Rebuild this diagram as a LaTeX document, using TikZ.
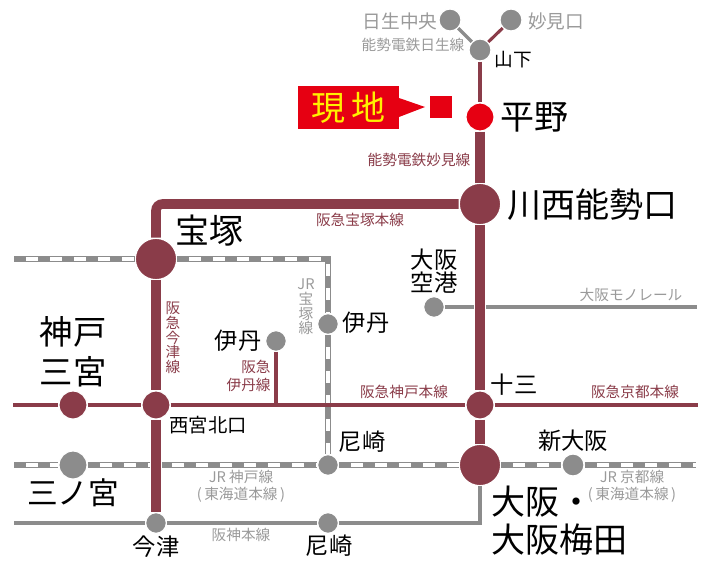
\documentclass[tikz,border=0pt]{standalone}
\usepackage{fontspec}
\setmainfont{Noto Sans CJK JP}
\usetikzlibrary{positioning}
\definecolor{hankyu}{HTML}{8A3C49}
\definecolor{railgrey}{HTML}{8C8C8C}
\definecolor{labelgrey}{HTML}{9A9A9A}
\definecolor{siteRed}{HTML}{E60012}
\definecolor{siteYellow}{HTML}{FFF000}
\newcommand{\fs}[1]{\fontsize{#1}{#1}\selectfont}
\begin{document}
\begin{tikzpicture}[x=0.75pt,y=-0.75pt,semithick]
\tikzstyle{every node}=[inner sep=0pt]
\tikzstyle{bigst}=[circle,draw=white,line width=0.9pt,fill=hankyu,minimum size=31pt]
\tikzstyle{midst}=[circle,draw=white,line width=0.9pt,fill=hankyu,minimum size=21pt]
\tikzstyle{greyst}=[circle,draw=white,line width=0.9pt,fill=railgrey,minimum size=16.5pt]
\tikzstyle{thickline}=[draw=hankyu,line width=7.2pt,preaction={draw=white,line width=8.6pt}]
\tikzstyle{thinline}=[draw=hankyu,line width=2.3pt]
\tikzstyle{greyline}=[draw=railgrey,line width=2.4pt]
\tikzstyle{jrline}=[draw=railgrey,line width=4pt,postaction={draw=white,line width=2.4pt},postaction={draw=railgrey,line width=2.6pt,dash pattern=on 9pt off 9pt}]
\tikzstyle{stbig}=[font=\fs{25.5},align=center]
\tikzstyle{stmid}=[font=\fs{17.5},align=center]
\tikzstyle{linered}=[font=\fs{11},text=hankyu,align=center]
\tikzstyle{linegrey}=[font=\fs{11},text=labelgrey,align=center]
\useasboundingbox (0,0) rectangle (709,567);
% stations
\node[greyst] (hinaka) at (450,20) {};
\node[greyst] (myoken) at (511,20) {};
\node[greyst] (yamashita) at (480,50) {};
\node[midst,fill=siteRed] (hirano) at (480,117) {};
\node[bigst] (kawanishi) at (480,204) {};
\node[bigst] (takarazuka) at (156,259) {};
\node[greyst,minimum size=15.5pt] (itamijr) at (328,324) {};
\node[greyst,minimum size=15.5pt] (itami) at (276,341) {};
\node[greyst,minimum size=15.5pt] (airport) at (434,307) {};
\node[midst] (sannomiya) at (73,405) {};
\node[midst] (nishinomiya) at (156,405) {};
\node[midst] (juso) at (480,405) {};
\node[midst,fill=railgrey] (jrsannomiya) at (73,465) {};
\node[greyst,minimum size=15.5pt] (amagasakijr) at (328,465) {};
\node[bigst] (osaka) at (480,465) {};
\node[greyst] (shinosaka) at (573,465) {};
\node[greyst,minimum size=15.5pt] (imazu) at (156,523) {};
\node[greyst,minimum size=15.5pt] (amagasaki) at (328,523) {};
% free ends
\coordinate (jrwest) at (14,259);
\coordinate (kobewest) at (14,465);
\coordinate (kyotoeast) at (696,465);
\coordinate (hkwest) at (13,405);
\coordinate (hkeast) at (698,405);
\coordinate (itamifoot) at (276,405);
\coordinate (monoeast) at (697,307);
\coordinate (hswest) at (14,523);
\coordinate (hscorner) at (480,523);
% JR
\path (jrwest) edge[jrline] (takarazuka)
      (kobewest) edge[jrline] (jrsannomiya)
      (jrsannomiya) edge[jrline] (amagasakijr)
      (amagasakijr) edge[jrline] (osaka)
      (osaka) edge[jrline] (shinosaka)
      (shinosaka) edge[jrline] (kyotoeast);
\draw[jrline] (takarazuka) -| (itamijr);
\path (itamijr) edge[jrline] (amagasakijr);
% grey lines
\path (hinaka) edge[greyline] (yamashita)
      (airport) edge[greyline] (monoeast)
      (hswest) edge[greyline] (imazu)
      (imazu) edge[greyline] (amagasaki);
\draw[greyline] (amagasaki) -- (hscorner) -- (osaka);
% hankyu lines
\path (myoken) edge[thinline] (yamashita)
      (yamashita) edge[thinline] (hirano)
      (hkwest) edge[thinline] (sannomiya)
      (sannomiya) edge[thinline] (nishinomiya)
      (nishinomiya) edge[thinline] (juso)
      (juso) edge[thinline] (hkeast)
      (itami) edge[thinline] (itamifoot)
      (hirano) edge[thickline] (kawanishi)
      (kawanishi) edge[thickline] (juso)
      (juso) edge[thickline] (osaka)
      (takarazuka) edge[thickline] (nishinomiya)
      (nishinomiya) edge[thickline] (imazu);
\draw[thickline,rounded corners=5pt] (takarazuka) |- (kawanishi);
% site marker
\node[fill=siteRed,minimum width=76pt,minimum height=32.5pt,text=siteYellow,font=\fs{25.5}] (site) at (348.5,107.5) {現\,地};
\node[fill=siteRed,minimum size=17pt] (sitemark) at (441,107) {};
\fill[siteRed] (399,98) -- (425,107) -- (399,117) -- cycle;
% big names
\node[stbig] (lhirano) at (534,117) {平野};
\node[stbig] (lkawanishi) at (592,205) {川西能勢口};
\node[stbig] (ltakarazuka) at (209,231) {宝塚};
\node[stbig,font=\fs{25}] (lsannomiya) at (73,352) {神戸\\[5pt]三宮};
\node[stbig,font=\fs{23}] (ljrsannomiya) at (73,493) {三ノ宮};
\node[stbig,anchor=north west,align=left] (losaka) at (491,486) {大阪・\\[3pt]大阪梅田};
% small names
\node[stmid,font=\fs{14},text=labelgrey] (lhinaka) at (400,21) {日生中央};
\node[stmid,font=\fs{14},text=labelgrey] (lmyoken) at (556,21) {妙見口};
\node[stmid,font=\fs{14}] (lyamashita) at (513,60) {山下};
\node[stmid] (lairport) at (434,271) {大阪\\空港};
\node[stmid] (litamijr) at (366,323) {伊丹};
\node[stmid] (litami) at (238,341) {伊丹};
\node[stmid] (ljuso) at (514,385) {十三};
\node[stmid,font=\fs{14.5}] (lnishinomiya) at (208,425) {西宮北口};
\node[stmid] (lamagasakijr) at (362,442) {尼崎};
\node[stmid] (lshinosaka) at (573,441) {新大阪};
\node[stmid] (limazu) at (156,547) {今津};
\node[stmid] (lamagasaki) at (329,546) {尼崎};
% line names
\node[linegrey] (nhose) at (413,45) {能勢電鉄日生線};
\node[linered] (nmyoken) at (419,160) {能勢電鉄妙見線};
\node[linered] (ntakarazuka) at (360,220) {阪急宝塚本線};
\node[linered] (nimazu) at (173,338) {阪\\急\\今\\津\\線};
\node[linegrey] (njrtaka) at (306,307) {JR\\宝\\塚\\線};
\node[linered,align=right,anchor=east] (nitami) at (271,376) {阪急\\[2pt]伊丹線};
\node[linered] (nkobe) at (404,392) {阪急神戸本線};
\node[linered] (nkyoto) at (635,392) {阪急京都本線};
\node[linegrey] (nmono) at (631,295) {大阪モノレール};
\node[linegrey] (njrkobe) at (241,486) {JR 神戸線\\[2pt](\,東海道本線\,)};
\node[linegrey] (nhanshin) at (241,535) {阪神本線};
\node[linegrey] (njrkyoto) at (632,486) {JR 京都線\\[2pt](\,東海道本線\,)};
\end{tikzpicture}
\end{document}
